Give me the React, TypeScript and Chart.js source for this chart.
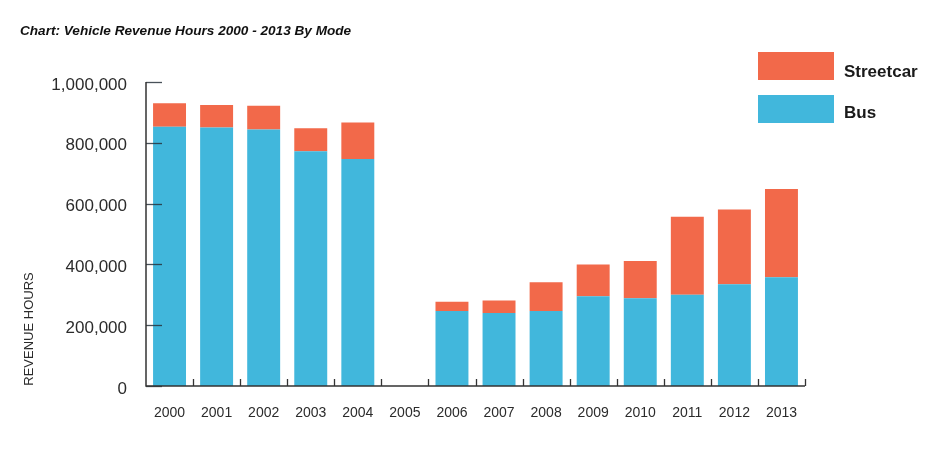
import React, { useEffect, useRef } from "react";
import { Chart, registerables } from "chart.js";

Chart.register(...registerables);

const years = ["2000","2001","2002","2003","2004","2005","2006","2007","2008","2009","2010","2011","2012","2013"];
const busHours = [853000, 850000, 844000, 772000, 747000, 0, 247000, 240000, 247000, 295000, 289000, 300000, 335000, 358000];
const streetcarHours = [77000, 74000, 78000, 76000, 120000, 0, 30000, 41000, 94000, 105000, 122000, 257000, 246000, 290000];
const yTicks = [0, 200000, 400000, 600000, 800000, 1000000];

const BUS_COLOR = "#41b7dc";
const STREETCAR_COLOR = "#f2694a";
const TEXT_COLOR = "#2b2b2b";
const AXIS_COLOR = "#333333";
const FONT = "'Liberation Sans', Arial, Helvetica, sans-serif";

const decorPlugin = {
  id: "decor",
  afterDatasetsDraw(chart: any) {
    const ctx = chart.ctx;
    const area = chart.chartArea;
    const x = chart.scales.x;
    const y = chart.scales.y;
    ctx.save();

    // y tick marks pointing right (inside)
    ctx.strokeStyle = "rgba(40,50,60,0.85)";
    ctx.lineWidth = 1.3;
    yTicks.forEach((v) => {
      const py = Math.round(y.getPixelForValue(v)) + 0.5;
      ctx.beginPath();
      ctx.moveTo(area.left, py);
      ctx.lineTo(area.left + 16, py);
      ctx.stroke();
    });

    // axes
    ctx.strokeStyle = AXIS_COLOR;
    ctx.lineWidth = 1.5;
    ctx.beginPath();
    ctx.moveTo(area.left, y.getPixelForValue(1000000));
    ctx.lineTo(area.left, area.bottom);
    ctx.lineTo(area.right, area.bottom);
    ctx.stroke();

    // category boundary ticks on x axis
    const n = years.length;
    const w = (area.right - area.left) / n;
    ctx.lineWidth = 1.3;
    for (let i = 1; i <= n; i++) {
      const px = Math.round(x.getPixelForValue(i - 1) + w / 2) + 0.5;
      ctx.beginPath();
      ctx.moveTo(px, area.bottom);
      ctx.lineTo(px, area.bottom - 7);
      ctx.stroke();
    }

    // title
    ctx.fillStyle = "#111";
    ctx.font = `italic bold 13.6px ${FONT}`;
    ctx.textAlign = "left";
    ctx.textBaseline = "middle";
    ctx.fillText("Chart: Vehicle Revenue Hours 2000 - 2013 By Mode", 20, 31);

    // legend
    ctx.fillStyle = STREETCAR_COLOR;
    ctx.fillRect(758, 52, 76, 28);
    ctx.fillStyle = BUS_COLOR;
    ctx.fillRect(758, 95, 76, 28);
    ctx.fillStyle = "#1a1a1a";
    ctx.font = `bold 17px ${FONT}`;
    ctx.fillText("Streetcar", 844, 72);
    ctx.fillText("Bus", 844, 113);

    // y axis title
    ctx.save();
    ctx.translate(29, 329);
    ctx.rotate(-Math.PI / 2);
    ctx.fillStyle = TEXT_COLOR;
    ctx.font = `13px ${FONT}`;
    ctx.textAlign = "center";
    ctx.textBaseline = "middle";
    ctx.fillText("REVENUE HOURS", 0, 0);
    ctx.restore();

    ctx.restore();
  },
};

export default function App() {
  const ref = useRef<HTMLCanvasElement>(null);

  useEffect(() => {
    if (!ref.current) return;
    const chart = new Chart(ref.current, {
      type: "bar",
      data: {
        labels: years,
        datasets: [
          { label: "Bus", data: busHours, backgroundColor: BUS_COLOR, borderWidth: 0 },
          { label: "Streetcar", data: streetcarHours, backgroundColor: STREETCAR_COLOR, borderWidth: 0 },
        ],
      },
      options: {
        animation: false,
        responsive: true,
        maintainAspectRatio: false,
        devicePixelRatio: 1,
        layout: { padding: { left: 0, top: 82, right: 135, bottom: 0 } },
        plugins: {
          legend: { display: false },
          tooltip: { enabled: false },
          title: { display: false },
        },
        datasets: { bar: { barPercentage: 0.7, categoryPercentage: 1 } },
        scales: {
          x: {
            stacked: true,
            offset: true,
            grid: { display: false, drawTicks: false },
            border: { display: false },
            ticks: {
              color: TEXT_COLOR,
              font: { family: FONT, size: 14 },
              padding: 19,
              maxRotation: 0,
              autoSkip: false,
            },
            afterFit: (s: any) => { s.height = 68; },
          },
          y: {
            stacked: true,
            min: 0,
            max: 1000000,
            grid: { display: false, drawTicks: false },
            border: { display: false },
            afterBuildTicks: (s: any) => { s.ticks = yTicks.map((v) => ({ value: v })); },
            ticks: {
              color: TEXT_COLOR,
              font: { family: FONT, size: 17 },
              padding: 19,
              labelOffset: 3,
              callback: (v: any) => Number(v).toLocaleString("en-US"),
            },
            afterFit: (s: any) => { s.width = 146; },
          },
        },
      },
      plugins: [decorPlugin],
    });
    return () => chart.destroy();
  }, []);

  return (
    <div style={{ position: "absolute", left: 0, top: 0, width: 940, height: 454, background: "#fff" }}>
      <canvas ref={ref} />
    </div>
  );
}
